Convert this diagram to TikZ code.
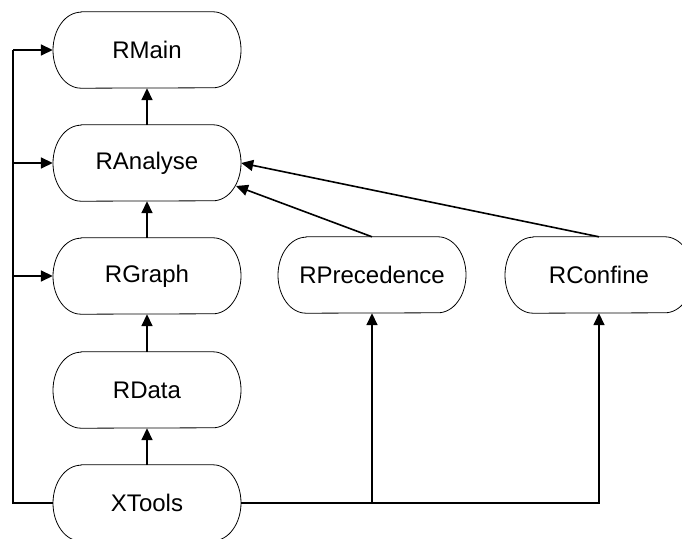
\documentclass[tikz,border=0pt]{standalone}
\usepackage{fontspec}
\setmainfont{Liberation Sans}
\usetikzlibrary{arrows.meta,calc}
\begin{document}
\begin{tikzpicture}[x=1pt,y=1pt,
  capsule/.style={minimum width=188pt,minimum height=76pt,inner sep=0pt,font=\fontsize{24}{28}\selectfont},
  capborder/.style={line width=0.8pt},
  conn/.style={line width=1.6pt},
  arr/.style={conn,-{Triangle[length=12pt,width=11pt]}}]
\path[use as bounding box,clip] (0,0) rectangle (682,538);
\fill[white] (0,0) rectangle (682,538);
\node[capsule] (RMain) at (147,488) {RMain};
\node[capsule] (RAnalyse) at (147,375) {RAnalyse};
\node[capsule] (RGraph) at (147,262) {RGraph};
\node[capsule] (RData) at (147,148) {RData};
\node[capsule] (XTools) at (147,35) {XTools};
\node[capsule] (RPrecedence) at (372,263) {RPrecedence};
\node[capsule] (RConfine) at (599,263) {RConfine};
\foreach \n in {RMain,RAnalyse,RGraph,RData,XTools,RPrecedence,RConfine}{
  \draw[capborder] ([xshift=-66pt]\n.north) -- ([xshift=66pt]\n.north)
    arc[start angle=90,end angle=-90,x radius=28,y radius=38]
    -- ([xshift=-66pt]\n.south)
    arc[start angle=270,end angle=90,x radius=28,y radius=38] -- cycle;
}
\coordinate (busT) at (13,488);
\coordinate (busB) at (13,35);
\coordinate (aIn) at ($(RAnalyse.center)+(89,-23)$);
% left bus
\draw[conn] (XTools.west) -- (busB) -- (busT);
\draw[arr] (busT) -- (RMain.west);
\draw[arr] (busT |- RAnalyse.west) -- (RAnalyse.west);
\draw[arr] (busT |- RGraph.west) -- (RGraph.west);
% vertical chain
\draw[arr] (RAnalyse.north) -- (RMain.south);
\draw[arr] (RGraph.north) -- (RAnalyse.south);
\draw[arr] (RData.north) -- (RGraph.south);
\draw[arr] (XTools.north) -- (RData.south);
% bottom bus
\draw[arr] (XTools.east) -| (RConfine.south);
\draw[arr] (RPrecedence.south |- XTools.east) -- (RPrecedence.south);
% diagonals
\draw[arr] (RPrecedence.north) -- (aIn);
\draw[arr] (RConfine.north) -- (RAnalyse.east);
\end{tikzpicture}
\end{document}
